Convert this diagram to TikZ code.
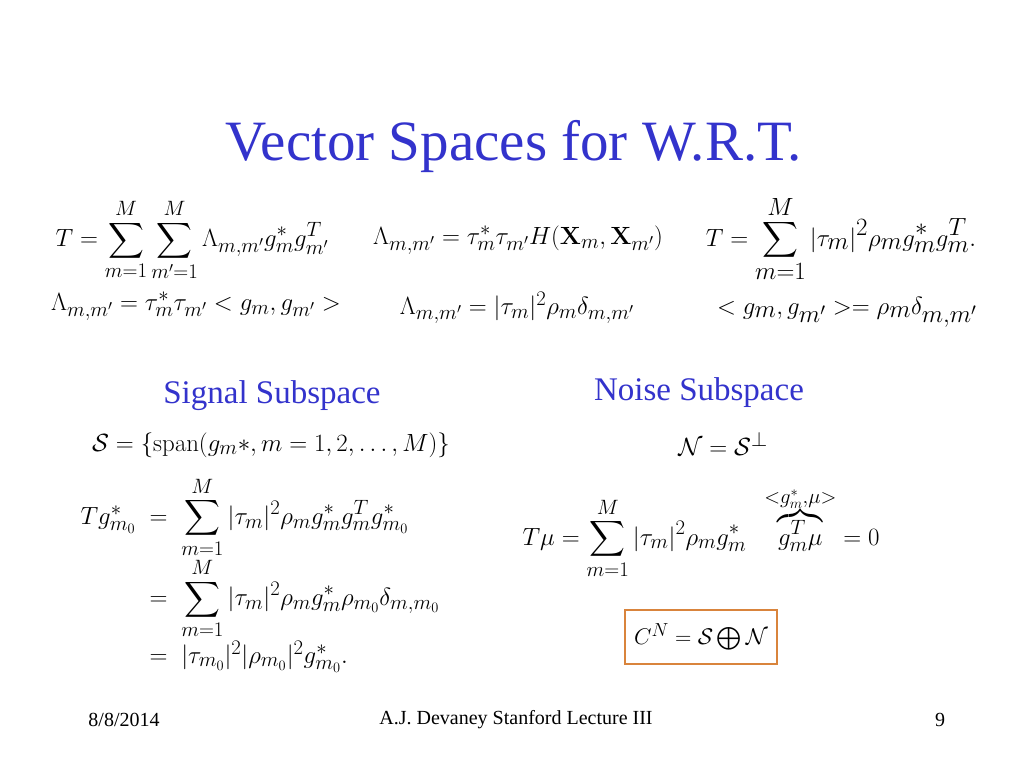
\documentclass[tikz,border=0pt]{standalone}
\usepackage[no-math]{fontspec}
\setmainfont{Liberation Serif}
\usepackage{amsmath}
\usepackage{graphicx}
\definecolor{titleblue}{RGB}{51,51,204}
\definecolor{boxorange}{RGB}{217,132,60}
\begin{document}
\begin{tikzpicture}[x=1pt,y=-1pt,every node/.style={inner sep=0pt,outer sep=0pt}]
\tikzset{
  titletext/.style={font=\fontsize{57}{60}\selectfont,text=titleblue},
  subhead/.style={font=\fontsize{33}{38}\selectfont,text=titleblue},
  eqn/.style={font=\fontsize{29}{34}\selectfont},
  bigeqn/.style={font=\fontsize{37}{42}\selectfont},
  foot/.style={font=\fontsize{20}{24}\selectfont},
  resultbox/.style={draw=boxorange,line width=1.2pt,minimum width=152pt,minimum height=54pt}
}
\fill[white] (0,0) rectangle (1024,768);
\useasboundingbox (0,0) rectangle (1024,768);
\node[titletext,anchor=base] (title) at (514,160) {Vector Spaces for W.R.T.};
% row 1
\node[eqn] (e1) at (192,240) {$\displaystyle T=\sum_{m=1}^{M}\sum_{m'=1}^{M}\Lambda_{m,m'}g_m^*g_{m'}^T$};
\node[eqn] (e2) at (518,240) {$\Lambda_{m,m'}=\tau_m^*\tau_{m'}H(\mathbf{X}_m,\mathbf{X}_{m'})$};
\node[bigeqn] (e3) at (841,239) {$\displaystyle T=\sum_{m=1}^{M}|\tau_m|^2\rho_m g_m^*g_m^T.$};
% row 2
\node[eqn] (e4) at (196,306) {$\Lambda_{m,m'}=\tau_m^*\tau_{m'}<g_m,g_{m'}>$};
\node[eqn] (e5) at (517,308) {$\Lambda_{m,m'}=|\tau_m|^2\rho_m\delta_{m,m'}$};
\node[bigeqn] (e6) at (847,312) {$<g_m,g_{m'}>=\rho_m\delta_{m,m'}$};
% subheadings
\node[subhead] (sig) at (272,396) {Signal Subspace};
\node[subhead] (noi) at (699,393) {Noise Subspace};
\node[font=\fontsize{28}{32}\selectfont] (S) at (271,445) {$\mathcal{S}=\{\mathrm{span}(g_m*,m=1,2,\ldots,M)\}$};
\node[eqn] (N) at (723,444) {$\mathcal{N}=\mathcal{S}^{\perp}$};
% left derivation
\node[eqn] (tg) at (260,575) {$\renewcommand{\arraystretch}{1}\begin{array}{r@{\;\;=\;\;}l}
Tg_{m_0}^* & \displaystyle\sum_{m=1}^{M}|\tau_m|^2\rho_m g_m^*g_m^Tg_{m_0}^*\\
 & \displaystyle\sum_{m=1}^{M}|\tau_m|^2\rho_m g_m^*\rho_{m_0}\delta_{m,m_0}\\
 & |\tau_{m_0}|^2|\rho_{m_0}|^2g_{m_0}^*.
\end{array}$};
% right
\node[eqn] (tmu) at (701,533) {$\displaystyle T\mu=\sum_{m=1}^{M}|\tau_m|^2\rho_m g_m^*\;\;\overbrace{g_m^T\mu}^{<g_m^*,\mu>}=0$};
\node[eqn,resultbox] (box) at (701,637) {\scalebox{0.91}{$C^N=\mathcal{S}\bigoplus\mathcal{N}$}};
% footer
\node[foot] (date) at (124,720) {8/8/2014};
\node[foot] (lec) at (516,720) {A.J. Devaney Stanford Lecture III};
\node[foot] (pg) at (940,720) {9};
\end{tikzpicture}
\end{document}
